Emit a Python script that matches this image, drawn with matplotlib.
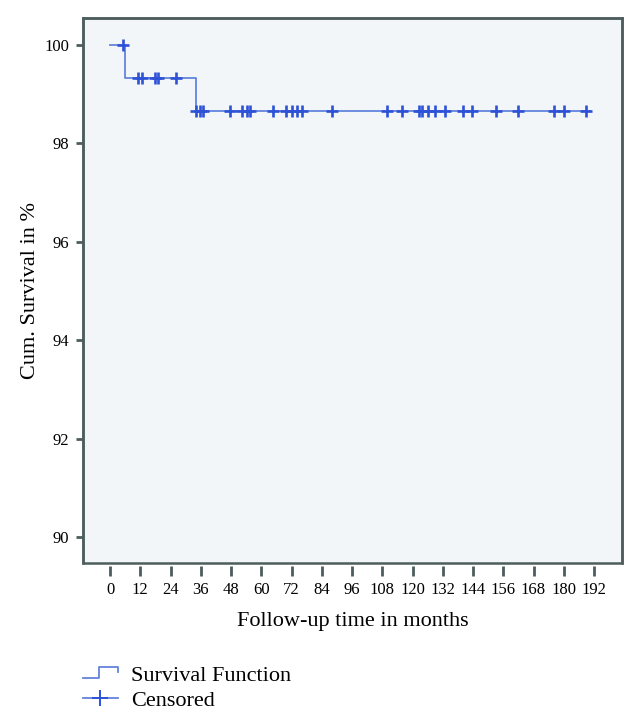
import matplotlib.pyplot as plt
import numpy as np
from matplotlib.patches import Rectangle
from matplotlib.lines import Line2D
from matplotlib.legend_handler import HandlerBase

plt.rcParams['font.family'] = ['Liberation Serif', 'DejaVu Serif']

# survival steps (months, %)
step_t = [0, 6, 34, 190.5]
step_s = [100.0, 99.33, 98.67, 98.67]

# censored observations
cens_t = [5, 11, 12.5, 18, 19, 26,
          34, 35.5, 37, 47.5, 52.5, 54.5, 55.5, 64.5, 70, 72, 74, 76, 88,
          110, 116, 122.5, 123.7, 126, 129, 133, 140, 143.5, 153, 162,
          176, 180, 189]

xticks = list(range(0, 193, 12))
yticks = [90, 92, 94, 96, 98, 100]


def surv_at(t):
    s = step_s[0]
    for tt, ss in zip(step_t, step_s):
        if t >= tt:
            s = ss
    return s


cens_s = [surv_at(t) for t in cens_t]

line_col = '#6384dc'
mark_col = '#2d52d6'
spine_col = '#4d5d5d'

fig = plt.figure(figsize=(6.39, 7.25), dpi=100)
ax = fig.add_axes([0.130, 0.2234, 0.843, 0.7517])
ax.set_facecolor('#f2f6f8')

ax.step(step_t, step_s, where='post', color=line_col, lw=1.3)
ax.plot(cens_t, cens_s, ls='none', marker='+', ms=9, mew=1.9, color=mark_col)

ax.set_xlim(-10.7, 203)
ax.set_ylim(89.47, 100.55)
ax.set_xticks(xticks)
ax.set_yticks(yticks)

for s in ax.spines.values():
    s.set_color(spine_col)
    s.set_linewidth(1.8)
ax.spines['bottom'].set_visible(False)
ax.spines['bottom'].set_position(('outward', 2))
ax.add_patch(Rectangle((0, 0), 1, 1, transform=ax.transAxes, fill=False,
                       ec=spine_col, lw=1.8, clip_on=False, zorder=5))

ax.tick_params(axis='x', length=7, width=2, color=spine_col, labelsize=12, pad=5)
ax.tick_params(axis='y', length=5, width=2, color=spine_col, labelsize=12, pad=5)

ax.set_ylabel('Cum. Survival in %', fontsize=16, labelpad=3)
ax.set_xlabel('Follow-up time in months', fontsize=16, labelpad=10)


class StepHandler(HandlerBase):
    def create_artists(self, legend, orig_handle, xdescent, ydescent,
                       width, height, fontsize, trans):
        x0, x1 = -xdescent, -xdescent + width
        y0, y1 = -ydescent + height * 0.2, -ydescent + height * 0.9
        xm = x0 + width * 0.45
        ln = Line2D([x0, xm, xm, x1, x1], [y0, y0, y1, y1, y1 - height * 0.3],
                    color=line_col, lw=1.3, transform=trans)
        return [ln]


h_surv = Line2D([], [], color=line_col)
h_cens = Line2D([], [], color=line_col, lw=1.3, marker='+', ms=11,
                mew=1.4, markeredgecolor=mark_col)

fig.legend([h_surv, h_cens], ['Survival Function', 'Censored'],
           handler_map={h_surv: StepHandler()},
           loc='lower left', bbox_to_anchor=(0.099, -0.008), frameon=False,
           fontsize=16, handlelength=1.55, handletextpad=0.6, labelspacing=0.18,
           numpoints=1)

fig.savefig('out.png', dpi=100)
